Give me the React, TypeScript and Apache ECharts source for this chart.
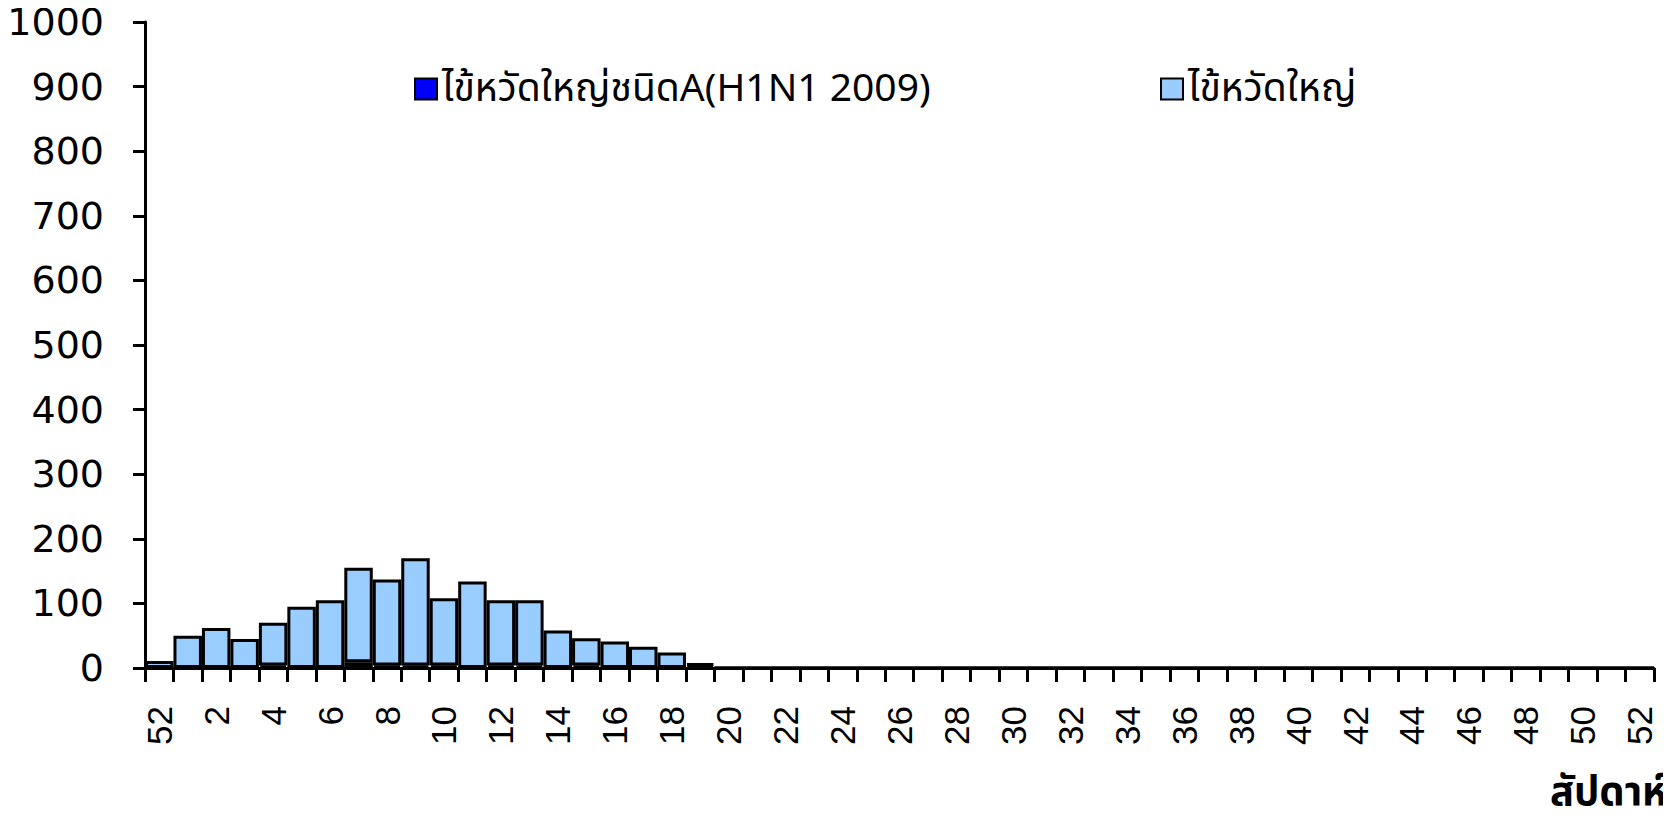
import React, { useEffect, useRef } from "react";
import * as echarts from "echarts";

const weeks: string[] = ["52"];
for (let i = 1; i <= 52; i++) weeks.push(String(i));

const seriesH1N1Name = "ไข้หวัดใหญ่ชนิดA(H1N1 2009)";
const seriesFluName = "ไข้หวัดใหญ่";

const h1n1Values: number[] = [
  0, 0, 0, 0, 4, 0, 0, 9, 4, 4, 4, 0, 4, 4, 0, 4, 0, 0, 0, 4,
  0, 0, 0, 0, 0, 0, 0, 0, 0, 0, 0, 0, 0, 0, 0, 0, 0, 0, 0, 0,
  0, 0, 0, 0, 0, 0, 0, 0, 0, 0, 0, 0, 0,
];
const fluValues: number[] = [
  11, 50, 62, 45, 66, 95, 105, 146, 133, 166, 104, 134, 101, 101, 58, 42, 41, 33, 24, 3,
  0, 0, 0, 0, 0, 0, 0, 0, 0, 0, 0, 0, 0, 0, 0, 0, 0, 0, 0, 0,
  0, 0, 0, 0, 0, 0, 0, 0, 0, 0, 0, 0, 0,
];

const axisTitle = "สัปดาห์";

export default function App() {
  const ref = useRef<HTMLDivElement>(null);
  useEffect(() => {
    if (!ref.current) return;
    const chart = echarts.init(ref.current, undefined, { renderer: "svg" });
    const thaiFont = "'Noto Sans Thai', 'Tahoma', 'Liberation Sans', 'DejaVu Sans', sans-serif";
    const legendText = { fontSize: 39, color: "#000", fontFamily: thaiFont, lineHeight: 44 };
    chart.setOption({
      animation: false,
      backgroundColor: "#ffffff",
      grid: { left: 145, right: 17, top: 22, bottom: 154, containLabel: false },
      legend: [
        {
          data: [{ name: seriesH1N1Name, icon: "rect" }],
          left: 409,
          top: 62,
          itemWidth: 22,
          itemHeight: 21,
          itemGap: 5,
          textStyle: legendText,
        },
        {
          data: [{ name: seriesFluName, icon: "rect" }],
          left: 1155,
          top: 62,
          itemWidth: 22,
          itemHeight: 21,
          textStyle: legendText,
        },
      ],
      xAxis: {
        type: "category",
        data: weeks,
        boundaryGap: true,
        axisLine: { lineStyle: { color: "#000", width: 3 } },
        axisTick: { show: true, interval: 0, length: 14, lineStyle: { color: "#000", width: 3 } },
        axisLabel: {
          interval: 1,
          rotate: 90,
          margin: 38,
          color: "#000",
          fontSize: 35,
          fontFamily: "'Liberation Sans', Arial, sans-serif",
        },
        splitLine: { show: false },
      },
      yAxis: {
        type: "value",
        min: 0,
        max: 1000,
        interval: 100,
        axisLine: { show: true, lineStyle: { color: "#000", width: 3 } },
        axisTick: { show: true, length: 12, lineStyle: { color: "#000", width: 3 } },
        axisLabel: {
          margin: 41,
          color: "#000",
          fontSize: 38,
          fontFamily: "'DejaVu Sans', sans-serif",
          formatter: (v: number) => String(v),
        },
        splitLine: { show: false },
      },
      series: [
        {
          name: seriesH1N1Name,
          type: "bar",
          stack: "total",
          data: h1n1Values,
          barWidth: "100%",
          itemStyle: { color: "#0000ff", borderColor: "#000", borderWidth: 3 },
        },
        {
          name: seriesFluName,
          type: "bar",
          stack: "total",
          data: fluValues,
          barWidth: "100%",
          itemStyle: { color: "#99ccff", borderColor: "#000", borderWidth: 3 },
        },
      ],
      graphic: [
        {
          type: "text",
          right: 4,
          top: 773,
          style: {
            text: axisTitle,
            fontSize: 40,
            fontWeight: "bold",
            fill: "#000",
            fontFamily: thaiFont,
          },
        },
      ],
    });
    return () => chart.dispose();
  }, []);
  return <div ref={ref} style={{ width: 1671, height: 822, margin: -8 }} />;
}
